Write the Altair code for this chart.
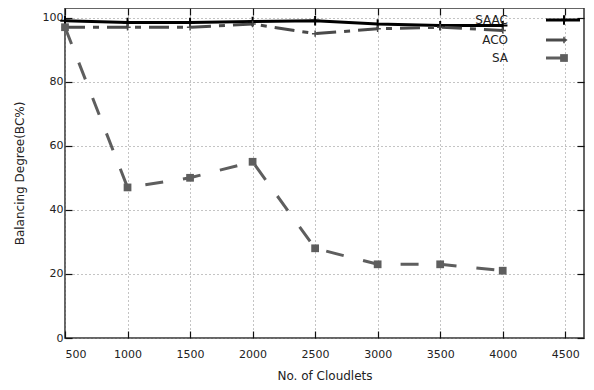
import altair as alt
import pandas as pd

cloudlets = [500, 1000, 1500, 2000, 2500, 3000, 3500, 4000]
saac = [99, 98.5, 98.5, 98.8, 99, 98, 97.5, 97.5]
aco = [97, 97, 97, 98, 95, 96.5, 97, 96]
sa = [97, 47, 50, 55, 28, 23, 23, 21]
x_ticks = [500, 1000, 1500, 2000, 2500, 3000, 3500, 4000, 4500]
y_ticks = [0, 20, 40, 60, 80, 100]

df = pd.DataFrame({"x": cloudlets, "SAAC": saac, "ACO": aco, "SA": sa})

FONT = "DejaVu Sans"
W, H = 519, 330
xs = alt.Scale(domain=[500, 4650], nice=False, zero=False)
ys = alt.Scale(domain=[0, 103], nice=False)

x_main = alt.X("x:Q", scale=xs, title="No. of Cloudlets",
               axis=alt.Axis(values=x_ticks, format="d", offset=-7, tickSize=7, domain=False,
                             labelPadding=10, tickColor="#111", tickWidth=1.2,
                             grid=True, gridDash=[1, 3], gridColor="#888",
                             titlePadding=11))
y_main = alt.Y("SAAC:Q", scale=ys, title="Balancing Degree(BC%)",
               axis=alt.Axis(values=y_ticks, format="d", offset=-7, tickSize=7, domain=False,
                             labelPadding=2, tickColor="#111", tickWidth=1.2,
                             grid=True, gridDash=[1, 3], gridColor="#888",
                             titlePadding=16))

def xn():
    return alt.X("x:Q", scale=xs, axis=None)

def yn(col):
    return alt.Y(f"{col}:Q", scale=ys, axis=None)

base = alt.Chart(df)

plus_path = "M-1,0L1,0M0,-1L0,1"

saac_line = base.mark_line(color="black", strokeWidth=3).encode(x=x_main, y=y_main)
saac_pts = base.mark_point(shape=plus_path, color="black", strokeWidth=2, size=90, filled=False, opacity=1).encode(
    x=xn(), y=yn("SAAC"))

aco_line = base.mark_line(color="#4a4a4a", strokeWidth=3, strokeDash=[20, 8, 6, 8]).encode(
    x=xn(), y=yn("ACO"))
aco_pts = base.mark_point(shape=plus_path, color="#4a4a4a", strokeWidth=1.5, size=40, filled=False, opacity=1).encode(
    x=xn(), y=yn("ACO"))

sa_line = base.mark_line(color="#5e5e5e", strokeWidth=3, strokeDash=[18, 20]).encode(
    x=xn(), y=yn("SA"))
sa_pts = base.mark_square(color="#5e5e5e", size=60, opacity=1).encode(
    x=xn(), y=yn("SA"))

# mirrored inward ticks on top and right
mirror = base.mark_point(opacity=0).encode(
    x=alt.X("x:Q", scale=xs, title=None,
            axis=alt.Axis(orient="top", values=x_ticks, offset=-7, tickSize=7, domain=False,
                          labels=False, grid=False, tickColor="#111", tickWidth=1.2)),
    y=alt.Y("SA:Q", scale=ys, title=None,
            axis=alt.Axis(orient="right", values=y_ticks, offset=-7, tickSize=7, domain=False,
                          labels=False, grid=False, tickColor="#111", tickWidth=1.2)))

# legend (top-right, labels left of samples)
names = ["SAAC", "ACO", "SA"]
leg = pd.DataFrame({"name": names})
def leg_text(i, yy):
    return alt.Chart(leg.iloc[[i]]).mark_text(align="right", baseline="middle", font=FONT, fontSize=12, color="#222").encode(
        text="name:N", x=alt.value(443), y=alt.value(yy))

leg_layers = [
    leg_text(0, 12), leg_text(1, 32), leg_text(2, 50),
    alt.Chart(leg.iloc[[0]]).mark_rule(color="black", strokeWidth=3).encode(x=alt.value(481), x2=alt.value(515), y=alt.value(12)),
    alt.Chart(leg.iloc[[0]]).mark_point(shape=plus_path, color="black", strokeWidth=2, size=90, filled=False, opacity=1).encode(x=alt.value(499), y=alt.value(12)),
    alt.Chart(leg.iloc[[1]]).mark_rule(color="#4a4a4a", strokeWidth=3, strokeDash=[20, 8, 6, 8]).encode(x=alt.value(481), x2=alt.value(506), y=alt.value(32)),
    alt.Chart(leg.iloc[[1]]).mark_point(shape=plus_path, color="#4a4a4a", strokeWidth=1.5, size=40, filled=False, opacity=1).encode(x=alt.value(499), y=alt.value(32)),
    alt.Chart(leg.iloc[[2]]).mark_rule(color="#5e5e5e", strokeWidth=3).encode(x=alt.value(481), x2=alt.value(501), y=alt.value(50)),
    alt.Chart(leg.iloc[[2]]).mark_square(color="#5e5e5e", size=60, opacity=1).encode(x=alt.value(499), y=alt.value(50)),
]

chart = alt.layer(saac_line, aco_line, sa_line, saac_pts, aco_pts, sa_pts, mirror, *leg_layers).resolve_axis(
    x="independent", y="independent"
).properties(
    width=W, height=H,
    autosize=alt.AutoSizeParams(type="none"),
    padding={"left": 57, "top": 0, "right": 1, "bottom": 44},
).configure_view(stroke="#333", strokeWidth=1.5).configure_axis(
    labelFont=FONT, titleFont=FONT, labelFontSize=11, titleFontSize=12,
    labelColor="#222", titleColor="#222", titleFontWeight="normal"
)

chart.save("out.html", embed_options={"renderer": "svg", "actions": False})
